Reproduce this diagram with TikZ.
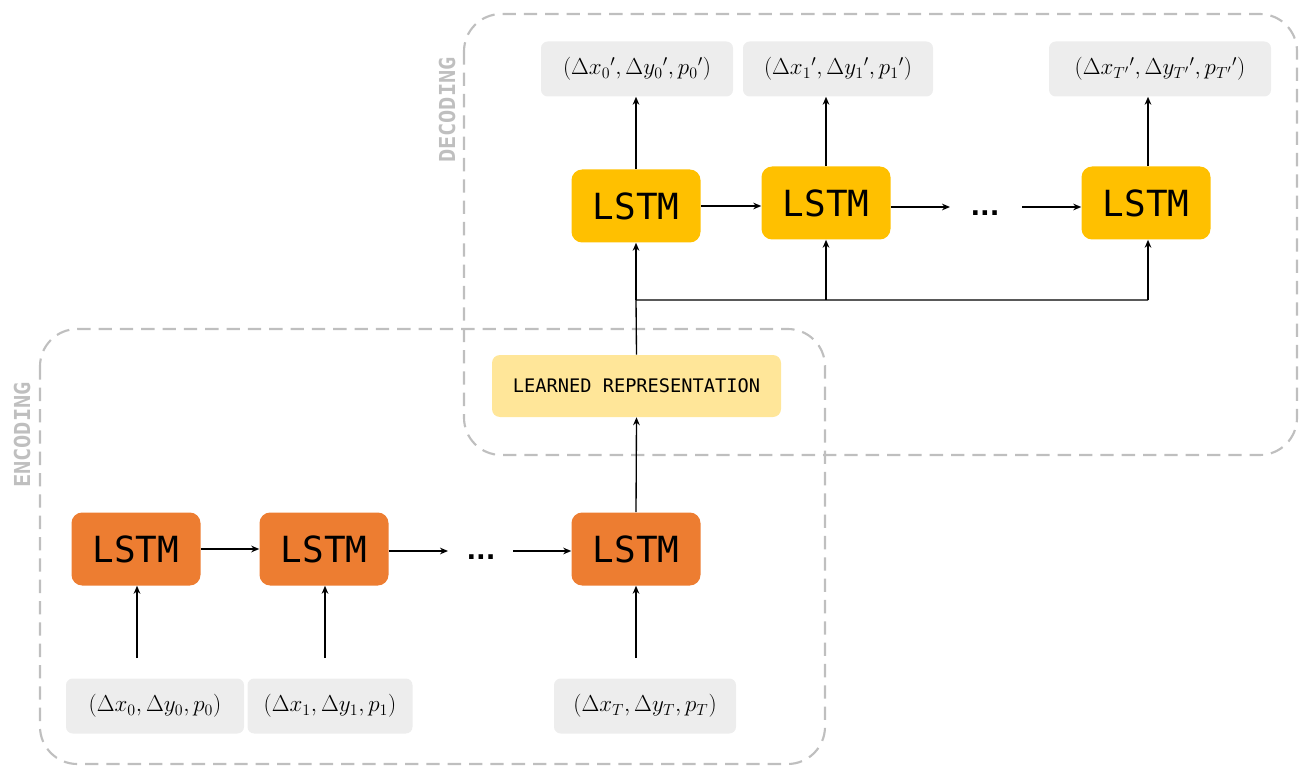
\documentclass[tikz,border=0pt]{standalone}
\usepackage{fontspec}
\setmonofont{DejaVu Sans Mono}
\newfontfamily\dotsfont{DejaVu Sans}
\usetikzlibrary{arrows.meta}
\definecolor{encorange}{HTML}{ED7D31}
\definecolor{decyellow}{HTML}{FFC000}
\definecolor{repyellow}{HTML}{FFE699}
\definecolor{lblgray}{HTML}{EDEDED}
\definecolor{dashgray}{HTML}{BFBFBF}
\tikzset{
  lstmbox/.style={rounded corners=8pt, minimum width=129*0.75pt, minimum height=73*0.75pt, inner sep=0pt,
    font=\ttfamily\fontsize{27}{30}\selectfont, text=black},
  encbox/.style={lstmbox, fill=encorange},
  decbox/.style={lstmbox, fill=decyellow},
  lblbox/.style={rounded corners=5pt, fill=lblgray, minimum height=55*0.75pt, inner sep=0pt, font=\fontsize{18}{21}\selectfont},
  groupbox/.style={draw=dashgray, line width=1.6pt, dash pattern=on 10pt off 6pt, rounded corners=28pt},
  grouplabel/.style={text=dashgray, font=\ttfamily\bfseries\fontsize{16.5}{18}\selectfont, rotate=90},
  arr/.style={line width=1pt, -{Stealth[length=6pt,width=5pt]}},
  ln/.style={line width=1pt},
  dotsnode/.style={font=\dotsfont\bfseries\fontsize{19}{22}\selectfont, inner sep=0pt}
}
\begin{document}
\begin{tikzpicture}[x=0.75pt,y=-0.75pt]
\useasboundingbox (0,0) rectangle (1305,766);
% group boxes
\draw[groupbox] (40,329) rectangle (825,764);
\draw[groupbox] (464,14) rectangle (1297,455);
\node[grouplabel] (enclabel) at (22,435) {ENCODING};
\node[grouplabel] (declabel) at (447,110) {DECODING};

% encoder
\node[encbox] (e1) at (136,549) {LSTM};
\node[encbox] (e2) at (324,549) {LSTM};
\node[dotsnode] (edots) at (481,557) {...};
\node[encbox] (e3) at (636,549) {LSTM};

\node[lblbox, minimum width=178*0.75pt] (in1) at (155,706) {$(\Delta x_0, \Delta y_0, p_0)$};
\node[lblbox, minimum width=165*0.75pt] (in2) at (330,706) {$(\Delta x_1, \Delta y_1, p_1)$};
\node[lblbox, minimum width=182*0.75pt] (in3) at (645,706) {$(\Delta x_T, \Delta y_T, p_T)$};

\coordinate (i1) at (137,658);
\coordinate (i2) at (325,658);
\coordinate (i3) at (636,658);
\draw[arr] (i1) -- (e1.south -| i1);
\draw[arr] (i2) -- (e2.south -| i2);
\draw[arr] (i3) -- (e3.south -| i3);

\draw[arr] (e1.east) -- (e2.west);
\coordinate (ea) at (448,551);
\coordinate (eb) at (513,551);
\draw[arr] (e2.east |- ea) -- (ea);
\draw[arr] (eb) -- (e3.west |- eb);

% learned representation
\node[fill=repyellow, rounded corners=6pt, minimum width=289*0.75pt, minimum height=62*0.75pt, inner sep=0pt,
  font=\ttfamily\fontsize{14}{16}\selectfont] (rep) at (636.5,386) {LEARNED REPRESENTATION};
\draw[arr] (e3.north) -- (rep.south);

% decoder
\node[decbox] (d1) at (636,206) {LSTM};
\node[decbox] (d2) at (826,203) {LSTM};
\node[dotsnode] (ddots) at (985,213) {...};
\node[decbox] (d3) at (1146,203) {LSTM};

\coordinate (j0) at (636,300);
\coordinate (j1) at (826,300);
\coordinate (j2) at (1148,300);
\draw[ln] (rep.north) -- (j0) -- (j2);
\draw[arr] (j0) -- (d1.south);
\draw[arr] (j1) -- (d2.south -| j1);
\draw[arr] (j2) -- (d3.south -| j2);

\draw[arr] (d1.east) -- (d2.west |- d1.east);
\coordinate (da) at (950,207);
\coordinate (db) at (1022,207);
\draw[arr] (d2.east |- da) -- (da);
\draw[arr] (db) -- (d3.west |- db);

\node[lblbox, minimum width=192*0.75pt] (o1) at (637,69) {$(\Delta x_0{}', \Delta y_0{}', p_0{}')$};
\node[lblbox, minimum width=190*0.75pt] (o2) at (838,69) {$(\Delta x_1{}', \Delta y_1{}', p_1{}')$};
\node[lblbox, minimum width=222*0.75pt] (o3) at (1160,69) {$(\Delta x_{T'}{}', \Delta y_{T'}{}', p_{T'}{}')$};

\draw[arr] (d1.north) -- (o1.south -| d1.north);
\draw[arr] (d2.north) -- (o2.south -| d2.north);
\draw[arr] (d3.north -| j2) -- (o3.south -| j2);
\end{tikzpicture}
\end{document}
